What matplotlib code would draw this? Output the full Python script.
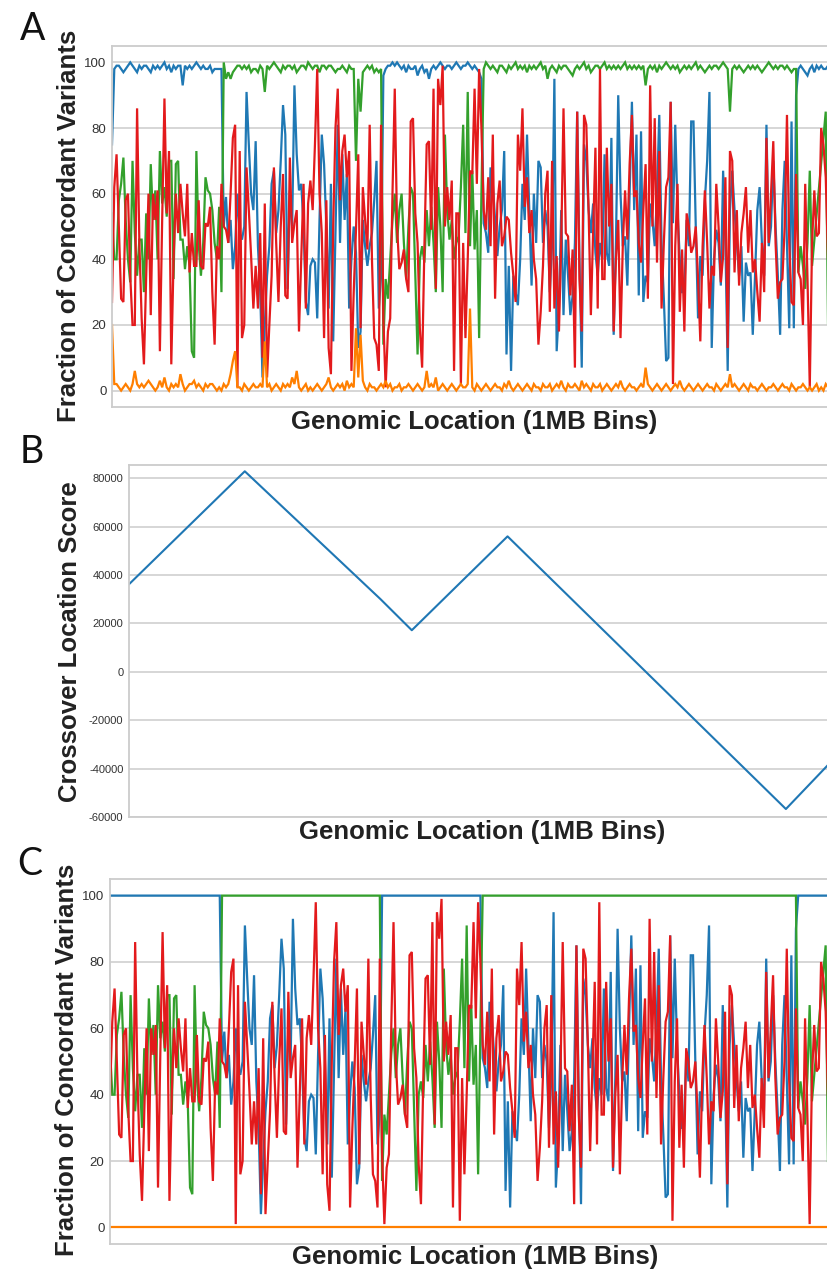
import numpy as np
import matplotlib
matplotlib.use("Agg")
import matplotlib.pyplot as plt

plt.rcParams["font.family"] = ["Liberation Sans", "DejaVu Sans"]
plt.rcParams["axes.unicode_minus"] = False

BLUE = "#1f78b4"
GREEN = "#33a02c"
RED = "#e31a1c"
ORANGE = "#ff7f00"
GRID = "#cccccc"

# Red haplotype concordance (%) per 1 Mb bin
red = [
    40, 62, 72, 50, 28, 27, 58, 60, 35, 20, 20, 86, 45, 22, 8, 35, 60, 23, 60, 52,
    61, 12, 52, 89, 54, 73, 8, 40, 60, 48, 63, 54, 47, 63, 36, 48, 38, 38, 58, 38,
    37, 51, 50, 56, 30, 14, 44, 40, 63,
    50, 49, 45, 60, 77, 81, 1, 73, 16, 20, 68, 55, 41, 25,
    38, 25, 48, 10, 57, 4, 20, 35, 68, 45, 27, 50, 66, 29, 28, 71, 45, 51, 55, 18,
    40, 63, 25, 57, 64, 55, 75, 98, 60, 48, 16, 58, 13, 5, 50, 80, 92, 58, 73, 78,
    65, 73, 6, 30, 49, 72, 19, 62, 52, 43, 81, 40, 16, 14, 6, 81,
    22, 1, 18, 22, 60, 92, 50, 37,
    39, 43, 34, 30, 82, 83, 54, 45, 19, 7, 44, 75, 76, 49, 92, 31, 95, 87, 99, 50,
    62, 52, 64, 6, 54, 54, 2, 45, 16, 40, 67, 66, 92, 63, 98, 80,
    55, 49, 65, 44, 78, 28, 57, 64, 44, 47, 53, 52, 42, 35, 27, 78, 67, 86, 56, 65,
    48, 55, 40, 34, 14, 24, 38, 60,
    67, 24, 70, 25, 41, 18, 45, 86, 48, 47, 29, 43, 7, 85, 34, 18, 84, 81, 55, 23,
    48, 74, 25, 98, 34, 34, 74, 50, 63, 18, 40, 52, 16, 44, 61, 46, 69, 84, 59, 61,
    45, 39, 55, 69, 28, 93, 50, 83, 39, 73, 25, 45, 62, 65, 88, 2, 44, 63, 24, 43,
    18, 54, 50, 42,
    44, 50, 34, 15, 44, 61, 45, 25, 38, 35, 63, 50, 33, 41, 65, 13, 73, 70, 36, 55,
    32, 48, 54, 62, 42, 55, 36, 40, 30, 21, 45, 30, 77, 45, 60, 76, 45, 28, 33, 34,
    50, 84, 45, 27, 26, 66,
    36, 34, 20, 63, 34, 1, 45, 61, 47, 48, 80, 75, 65, 40,
]

# Blue / green haplotypes: one of them sits at 100 % in each block,
# the other follows these values
green_seg1 = [
    54, 40, 40, 58, 63, 71, 52, 40, 33, 70, 48, 35, 46, 46, 30, 54, 40, 69, 52, 61,
    40, 73, 57, 62, 53, 70, 70, 34, 69, 70, 46, 46, 37, 44, 38, 12, 10, 73, 45, 35,
    45, 65, 61, 60, 55, 45, 40, 56, 30,
]
blue_seg1 = [
    50, 59, 45, 52, 37, 44, 60, 48, 46, 50, 91, 75, 60, 55,
    76, 44, 30, 4, 20, 35, 44, 63, 67, 48, 55, 70, 87, 78, 31, 61, 50, 93, 72, 61,
    63, 50, 27, 23, 38, 40, 39, 22, 52, 78, 69, 50, 25, 63, 15, 48, 81, 45, 72, 52,
    66, 25, 40, 50, 42, 13, 18, 52, 44, 38, 44, 48, 58, 70, 25, 35,
]
green_seg2 = [
    14, 34, 28, 40, 52, 60, 45, 55,
    60, 45, 34, 50, 62, 60, 35, 11, 40, 44, 39, 55, 44, 56, 45, 30, 62, 50, 30, 78,
    55, 46, 52, 40, 45, 47, 62, 81, 48, 91, 44, 67, 43, 55, 16, 60,
]
blue_seg2 = [
    51, 48, 42, 68, 63, 52, 41, 50, 55, 73, 11, 38, 6, 35, 30, 26, 40, 63, 52, 78,
    55, 32, 60, 45, 70, 68, 45, 55,
    50, 30, 45, 95, 12, 25, 55, 23, 46, 35, 23, 29, 45, 85, 40, 7, 75, 70, 55, 48,
    57, 42, 35, 45, 40, 72, 42, 38, 77, 17, 45, 90, 60, 44, 47, 32, 60, 88, 55, 78,
    29, 79, 27, 35, 33, 57, 52, 44, 60, 84, 45, 28, 9, 10, 88, 51, 81, 55, 40, 30,
    30, 52, 44, 82,
    82, 50, 22, 41, 35, 58, 70, 91, 13, 40, 49, 45, 32, 67, 45, 6, 55, 67, 55, 45,
    35, 44, 21, 39, 35, 36, 17, 35, 55, 62, 45, 35, 81, 44, 50, 70, 50, 35, 17, 55,
    70, 45, 19, 82, 19, 90,
]
nan = float("nan")
green_seg3 = [36, 44, 38, 31, 45, 67, 38, nan, nan, nan, nan, nan, 85, 20]

# Block lengths (bins) where blue / green is the fully concordant haplotype
block_owner = ["blue", "green", "blue", "green", "blue"]
block_len = [49, 70, 44, 138, 14]

# Raw (unfiltered) values of the concordant haplotype and the discordant fraction
top_raw = [
    75, 98, 99, 99, 98, 97, 98, 99, 100, 99, 98, 97, 99, 98, 99, 99, 98, 97, 99, 98,
    99, 98, 99, 100, 98, 99, 97, 99, 98, 99, 99, 93, 99, 98, 99, 98, 99, 100, 99, 98,
    99, 98, 98, 99, 97, 98, 98, 98, 98, 100, 95, 97, 95, 97, 98, 99, 99, 98, 99, 98,
    99, 97, 98, 98, 97, 99, 98, 91, 99, 98, 99, 100, 99, 98, 97, 99, 98, 99, 99, 98,
    99, 97, 98, 99, 99, 98, 100, 99, 98, 99, 99, 97, 99, 99, 98, 99, 99, 98, 97, 98,
    98, 99, 98, 97, 99, 98, 98, 70, 95, 85, 97, 98, 99, 98, 99, 97, 98, 97, 98, 96,
    98, 99, 99, 100, 99, 100, 99, 98, 99, 97, 99, 98, 98, 99, 96, 98, 99, 97, 98, 95,
    98, 99, 98, 99, 100, 99, 98, 99, 99, 98, 99, 100, 99, 98, 99, 99, 100, 99, 98, 99,
    98, 97, 95, 98, 100, 99, 98, 99, 98, 97, 99, 99, 98, 97, 99, 98, 99, 100, 98, 99,
    98, 99, 97, 99, 98, 99, 98, 99, 100, 98, 99, 95, 98, 99, 98, 97, 99, 98, 99, 99,
    98, 97, 96, 98, 99, 98, 99, 100, 98, 99, 97, 98, 99, 99, 98, 99, 100, 98, 99, 98,
    99, 98, 99, 98, 99, 100, 98, 99, 98, 99, 98, 99, 98, 99, 93, 98, 99, 98, 99, 97,
    99, 98, 99, 100, 99, 98, 99, 98, 99, 97, 98, 99, 98, 99, 98, 99, 100, 98, 99, 98,
    97, 98, 99, 98, 99, 99, 98, 99, 100, 99, 98, 85, 98, 99, 98, 99, 98, 97, 98, 99,
    98, 99, 98, 99, 98, 97, 98, 99, 100, 99, 98, 99, 98, 99, 99, 98, 99, 98, 97, 98,
    98, 98, 99, 98, 97, 96, 98, 99, 97, 99, 98, 99, 98, 98, 99,
]
orange_raw = [
    20, 2, 2, 1, 0, 1, 2, 1, 0, 2, 6, 2, 1, 2, 1, 2, 3, 2, 1, 0,
    1, 3, 1, 4, 1, 0, 2, 1, 2, 1, 5, 2, 0, 1, 2, 2, 3, 1, 2, 1,
    0, 2, 1, 2, 2, 1, 0, 1, 0, 2, 1, 2, 5, 9, 12, 1, 1, 0, 2, 1,
    0, 1, 2, 1, 1, 2, 1, 15, 1, 2, 0, 1, 2, 1, 0, 2, 1, 2, 1, 4,
    2, 6, 1, 0, 1, 2, 0, 1, 0, 1, 2, 1, 0, 1, 2, 4, 1, 0, 1, 2,
    1, 2, 0, 3, 1, 2, 1, 19, 4, 17, 3, 1, 0, 2, 1, 1, 0, 1, 2, 1,
    3, 1, 2, 0, 1, 1, 2, 0, 1, 1, 2, 1, 0, 1, 2, 1, 0, 1, 6, 1,
    2, 1, 4, 0, 1, 2, 1, 0, 1, 2, 1, 0, 1, 2, 1, 1, 2, 25, 1, 0,
    2, 1, 0, 1, 2, 1, 0, 1, 2, 1, 1, 0, 2, 1, 3, 1, 0, 1, 2, 1,
    0, 1, 2, 1, 0, 2, 1, 1, 0, 2, 1, 1, 2, 0, 1, 2, 1, 3, 1, 0,
    2, 1, 1, 2, 1, 0, 3, 1, 2, 1, 0, 2, 1, 1, 2, 0, 1, 2, 1, 0,
    1, 2, 1, 3, 1, 0, 1, 2, 1, 1, 0, 1, 2, 1, 7, 2, 1, 0, 1, 2,
    1, 0, 1, 2, 1, 0, 1, 2, 1, 3, 1, 0, 1, 2, 1, 0, 1, 2, 1, 0,
    1, 2, 1, 1, 0, 2, 1, 0, 1, 2, 1, 5, 1, 2, 1, 0, 1, 2, 1, 0,
    2, 1, 1, 0, 1, 2, 1, 0, 1, 1, 2, 1, 0, 1, 2, 1, 1, 0, 2, 1,
    0, 1, 1, 2, 1, 0, 1, 0, 1, 2, 0, 1, 0, 2, 1,
]
red_raw_first = 27

# Crossover location score, turning points only (bin, score)
cross_bin = [0, 52, 113, 127, 170, 295, 314]
cross_score = [36200, 82900, 30000, 17200, 56000, -56700, -38400]

# ---- assemble filtered (panel C) and raw (panel A) series ----
seg = {"blue": [blue_seg1, blue_seg2], "green": [green_seg1, green_seg2, green_seg3]}
blue_c, green_c = [], []
bi = gi = 0
for owner, n in zip(block_owner, block_len):
    if owner == "blue":
        blue_c += [100] * n
        green_c += seg["green"][gi]
        gi += 1
    else:
        green_c += [100] * n
        blue_c += seg["blue"][bi]
        bi += 1
blue_c = np.array(blue_c, float)
green_c = np.array(green_c, float)
red_c = np.array(red, float)
orange_c = np.zeros(len(red))
top_raw = np.array(top_raw, float)

blue_a = np.where(blue_c == 100, top_raw, blue_c)
green_a = np.where(green_c == 100, top_raw, green_c)
red_a = red_c.copy()
red_a[0] = red_raw_first
orange_a = np.array(orange_raw, float)
bins = np.arange(len(red))

W, H = 828, 1270
fig = plt.figure(figsize=(W / 100, H / 100), dpi=100)


def px_axes(left, top, right, bottom):
    return fig.add_axes([left / W, 1 - bottom / H, (right - left) / W, (bottom - top) / H])


def style(ax, fs=9.5):
    ax.set_facecolor("white")
    for s in ax.spines.values():
        s.set_color(GRID)
        s.set_linewidth(1.3)
    ax.grid(axis="y", color=GRID, linewidth=1.1)
    ax.set_axisbelow(True)
    ax.set_xticks([])
    ax.tick_params(axis="y", length=0, pad=4, labelsize=fs, labelcolor="#333333")


def plot_haplotypes(ax, b, g, r, o):
    for y, c in ((b, BLUE), (g, GREEN), (r, RED), (o, ORANGE)):
        ok = ~np.isnan(y)
        ax.plot(bins[ok], y[ok], color=c, linewidth=1.6, solid_joinstyle="miter")
    ax.set_ylim(-5, 105)
    ax.set_yticks([0, 20, 40, 60, 80, 100])


axA = px_axes(112, 46, 836, 407)
style(axA)
plot_haplotypes(axA, blue_a, green_a, red_a, orange_a)
axA.set_xlim(0, 317.5)

axB = px_axes(129, 465, 836, 817)
style(axB, fs=8)
axB.plot(cross_bin, cross_score, color="#1f77b4", linewidth=1.5)
axB.set_xlim(0, 317.5)
axB.set_ylim(-60000, 85500)
axB.set_yticks(range(-60000, 80001, 20000))

axC = px_axes(110, 879, 838, 1244)
style(axC)
plot_haplotypes(axC, blue_c, green_c, red_c, orange_c)
axC.set_xlim(0, 318.4)

lab = dict(fontsize=18.5, fontweight="bold", color="#222222", ha="center", va="center")
for x, y, t in ((69, 226, "Fraction of Concordant Variants"),
                (70, 642, "Crossover Location Score"),
                (67, 1060, "Fraction of Concordant Variants")):
    fig.text(x / W, 1 - y / H, t, rotation=90, **lab)
for x, y in ((474, 422), (482, 832), (475, 1257)):
    fig.text(x / W, 1 - y / H, "Genomic Location (1MB Bins)", **lab)

for x, y, t in ((33, 29, "A"), (32, 452, "B"), (30, 864, "C")):
    fig.text(x / W, 1 - y / H, t, fontsize=27, family=["Lato", "DejaVu Sans"],
             color="#111111", ha="center", va="center")

fig.savefig("out.png", dpi=100, facecolor="white")
